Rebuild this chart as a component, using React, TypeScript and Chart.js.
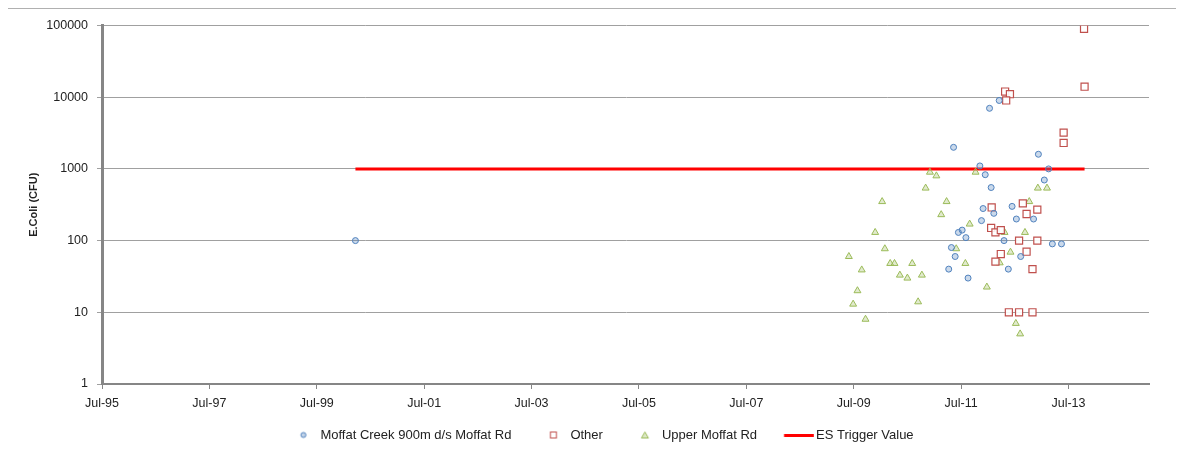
import { useEffect, useRef } from 'react';
import { Chart, registerables } from 'chart.js';

Chart.register(...registerables);

const seriesNames = ['Moffat Creek 900m d/s Moffat Rd', 'Other', 'Upper Moffat Rd', 'ES Trigger Value'];

const moffatCreekDates = [2000.22, 2011.36, 2012.21, 2012.03, 2012.94, 2011.85, 2011.95, 2013.13, 2013.05, 2012.06, 2011.91, 2012.45, 2011.45, 2011.52, 2011.59, 2011.32, 2011.39, 2011.27, 2011.63, 2012.11, 2012.53, 2012.85, 2011.88, 2012.30, 2013.20, 2013.37, 2012.61, 2012.38];
const moffatCreekValues = [100, 2000, 9000, 7000, 1600, 1100, 830, 1000, 700, 550, 280, 300, 130, 140, 110, 80, 60, 40, 30, 240, 200, 200, 190, 100, 90, 90, 60, 40];

const otherDates = [2012.32, 2012.41, 2012.34, 2013.80, 2013.79, 2013.41, 2013.41, 2012.07, 2012.65, 2012.92, 2012.72, 2012.06, 2012.14, 2012.24, 2012.58, 2012.92, 2012.24, 2012.72, 2012.14, 2012.83, 2012.39, 2012.58, 2012.83];
const otherValues = [12000, 11000, 9000, 14000, 90000, 3200, 2300, 290, 330, 270, 235, 150, 130, 140, 100, 100, 65, 70, 51, 40, 10, 10, 10];

const upperMoffatDates = [2010.92, 2011.04, 2010.84, 2010.03, 2011.23, 2011.13, 2011.66, 2009.90, 2011.41, 2009.41, 2010.08, 2010.18, 2010.26, 2010.59, 2009.65, 2010.36, 2010.50, 2010.77, 2009.57, 2009.49, 2010.70, 2009.72, 2011.77, 2012.93, 2013.10, 2012.77, 2012.31, 2012.69, 2012.42, 2012.22, 2011.58, 2011.98, 2012.52, 2012.60];
const upperMoffatValues = [900, 800, 540, 350, 350, 230, 170, 130, 77, 60, 77, 48, 48, 48, 39, 33, 30, 33, 20, 13, 14, 8, 900, 540, 540, 350, 130, 130, 69, 49, 48, 22.5, 7, 5];

const triggerDates = [2000.22, 2013.8];
const triggerValues = [1000, 1000];

const xTickValues = [1995.5, 1997.5, 1999.5, 2001.5, 2003.5, 2005.5, 2007.5, 2009.5, 2011.5, 2013.5];
const xTickLabels = ['Jul-95', 'Jul-97', 'Jul-99', 'Jul-01', 'Jul-03', 'Jul-05', 'Jul-07', 'Jul-09', 'Jul-11', 'Jul-13'];
const yTickValues = [1, 10, 100, 1000, 10000, 100000];
const yTickLabels = ['1', '10', '100', '1000', '10000', '100000'];

const BLUE = '#4f81bd';
const RED = '#c0504d';
const GREEN = '#9bbb59';
const LINE_RED = '#ff0000';
const FONT = "'Liberation Sans', Arial, sans-serif";

// legend geometry: box width and where the marker sits inside it
const LEGEND_BOX = 42.5;
const MARKER_SHIFT = LEGEND_BOX / 2 - 10.5;

function toPoints(xs: number[], ys: number[]) {
  return xs.map((x, i) => ({ x, y: ys[i] }));
}

function makeIcon(kind: string): HTMLCanvasElement {
  const c = document.createElement('canvas');
  if (kind === 'line') {
    c.width = 52;
    c.height = 3;
    const g = c.getContext('2d')!;
    g.fillStyle = LINE_RED;
    g.fillRect(21.75, 0, 30, 3);
    return c;
  }
  const half = 16;
  c.width = half * 2;
  c.height = 9;
  const cx = half + MARKER_SHIFT;
  const g = c.getContext('2d')!;
  g.lineWidth = 1;
  if (kind === 'circle') {
    g.strokeStyle = BLUE;
    g.fillStyle = 'rgba(79,129,189,0.35)';
    g.beginPath();
    g.arc(cx, 4.5, 2.5, 0, Math.PI * 2);
    g.fill();
    g.stroke();
  } else if (kind === 'rect') {
    g.strokeStyle = RED;
    g.fillStyle = '#ffffff';
    g.fillRect(cx - 3, 1.5, 6, 6);
    g.strokeRect(cx - 3, 1.5, 6, 6);
  } else {
    g.strokeStyle = GREEN;
    g.fillStyle = 'rgba(155,187,89,0.35)';
    g.beginPath();
    g.moveTo(cx, 1.5);
    g.lineTo(cx + 3.5, 7.5);
    g.lineTo(cx - 3.5, 7.5);
    g.closePath();
    g.fill();
    g.stroke();
  }
  return c;
}

export default function App() {
  const ref = useRef<HTMLCanvasElement | null>(null);

  useEffect(() => {
    if (!ref.current) return;
    const icons = [makeIcon('circle'), makeIcon('rect'), makeIcon('triangle'), makeIcon('line')];
    const chart = new Chart(ref.current, {
      type: 'scatter',
      data: {
        datasets: [
          {
            label: seriesNames[0],
            data: toPoints(moffatCreekDates, moffatCreekValues),
            pointStyle: 'circle',
            pointRadius: 3,
            borderWidth: 1,
            borderColor: BLUE,
            backgroundColor: 'rgba(79,129,189,0.3)',
          },
          {
            label: seriesNames[1],
            data: toPoints(otherDates, otherValues),
            pointStyle: 'rect',
            pointRadius: 5,
            borderWidth: 1.2,
            borderColor: RED,
            backgroundColor: 'rgba(255,255,255,0.9)',
          },
          {
            label: seriesNames[2],
            data: toPoints(upperMoffatDates, upperMoffatValues),
            pointStyle: 'triangle',
            pointRadius: 4,
            borderWidth: 1,
            borderColor: GREEN,
            backgroundColor: 'rgba(155,187,89,0.3)',
          },
          {
            type: 'line',
            label: seriesNames[3],
            data: toPoints(triggerDates, triggerValues),
            borderColor: LINE_RED,
            backgroundColor: LINE_RED,
            borderWidth: 3,
            pointRadius: 0,
            showLine: true,
            fill: false,
          } as any,
        ],
      },
      options: {
        animation: false,
        responsive: false,
        layout: { padding: { left: 30, top: 13, right: 34, bottom: 0.5 } },
        plugins: {
          tooltip: { enabled: false },
          legend: {
            position: 'bottom',
            labels: {
              usePointStyle: true,
              pointStyleWidth: LEGEND_BOX,
              boxHeight: 7,
              padding: 10,
              color: '#222',
              font: { family: FONT, size: 13 },
              generateLabels: (ch: any) => {
                const items = (Chart.defaults.plugins.legend.labels as any).generateLabels(ch);
                items.forEach((it: any, i: number) => {
                  it.pointStyle = icons[i];
                });
                return items;
              },
            },
          },
        },
        scales: {
          x: {
            type: 'linear',
            min: 1995.5,
            max: 2015.0,
            afterBuildTicks: (s: any) => {
              s.ticks = xTickValues.map((v) => ({ value: v }));
            },
            afterFit: (s: any) => {
              s.height = 34.5;
            },
            ticks: {
              autoSkip: false,
              maxRotation: 0,
              padding: 7,
              color: '#222',
              font: { family: FONT, size: 12.5 },
              callback: (v: any) => xTickLabels[xTickValues.indexOf(Number(v))],
            },
            grid: {
              drawOnChartArea: false,
              drawTicks: true,
              tickLength: 5,
              color: '#868686',
            },
            border: { display: true, color: '#868686', width: 2 },
          },
          y: {
            type: 'logarithmic',
            min: 1,
            max: 100000,
            afterBuildTicks: (s: any) => {
              s.ticks = yTickValues.map((v) => ({ value: v }));
            },
            afterFit: (s: any) => {
              s.width = 66;
            },
            ticks: {
              autoSkip: false,
              padding: 9,
              color: '#222',
              font: { family: FONT, size: 12.5 },
              callback: (v: any) => yTickLabels[yTickValues.indexOf(Number(v))],
            },
            grid: {
              color: '#a0a0a0',
              lineWidth: 1,
              drawTicks: true,
              tickLength: 5,
            },
            border: { display: true, color: '#868686', width: 3 },
            title: {
              display: true,
              text: 'E.Coli (CFU)',
              color: '#222',
              font: { family: FONT, size: 11, weight: 'bold' },
              padding: { top: -9, bottom: 0 },
            },
          },
        },
      } as any,
    });
    return () => chart.destroy();
  }, []);

  return (
    <div
      style={{
        width: 1179,
        height: 445,
        border: '1px solid #b0b0b0',
        boxSizing: 'border-box',
        margin: '0 0 0 -3px',
        background: '#fff',
      }}
    >
      <canvas ref={ref} width={1177} height={443} style={{ display: 'block' }} />
    </div>
  );
}
